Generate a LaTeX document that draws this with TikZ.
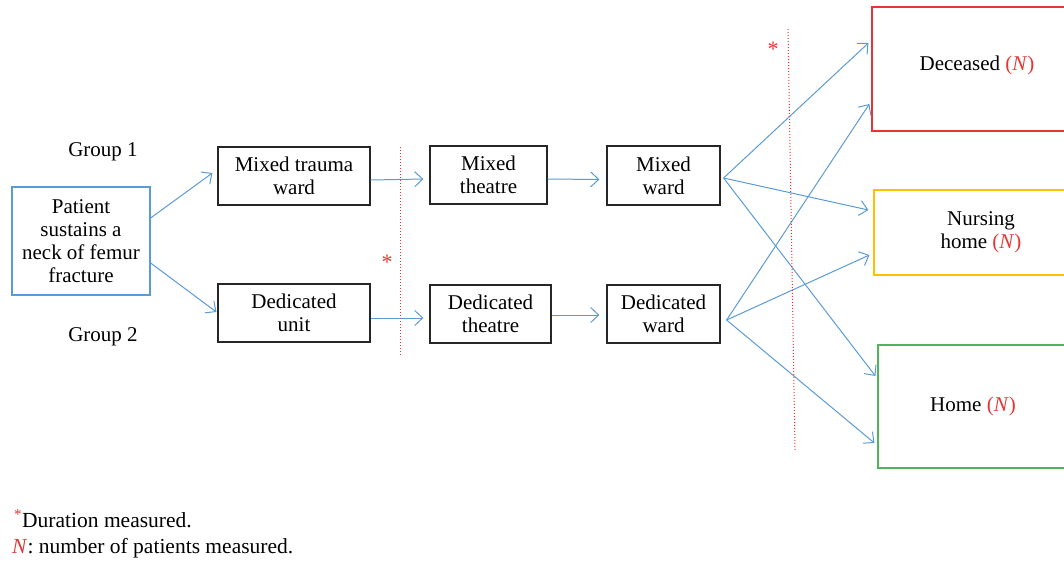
\documentclass[tikz,border=0pt]{standalone}
\usepackage{fontspec}
\setmainfont{Liberation Serif}
\usetikzlibrary{arrows.meta}
\definecolor{lblue}{RGB}{91,155,213}
\definecolor{dred}{RGB}{232,52,52}
\definecolor{dyel}{RGB}{255,192,0}
\definecolor{dgrn}{RGB}{80,180,90}
\begin{document}
\begin{tikzpicture}[x=1pt,y=-1pt,
  box/.style={draw=black!85,line width=1.2pt,inner sep=0pt,align=center,
    font=\rmfamily\fontsize{21}{23}\selectfont},
  flow/.style={draw=lblue,line width=1pt,-{Straight Barb[length=8pt,width=15pt]}},
  meas/.style={draw=dred,dotted,line width=1pt},
  lab/.style={font=\rmfamily\fontsize{21}{24}\selectfont},
  star/.style={text=dred,font=\rmfamily\fontsize{22}{22}\selectfont,inner sep=0pt}]
\useasboundingbox (0,0) rectangle (1064,560);
\clip (0,0) rectangle (1064,560);
\node[box,draw=lblue,minimum width=138pt,minimum height=108pt] (pat) at (81,241) {Patient\\sustains a\\neck of femur\\fracture};
\node[box,minimum width=152pt,minimum height=58pt] (mtw) at (294,176) {Mixed trauma\\ward};
\node[box,minimum width=152pt,minimum height=58pt] (du) at (294,313) {Dedicated\\unit};
\node[box,minimum width=117pt,minimum height=58pt] (mt) at (488.5,175) {Mixed\\theatre};
\node[box,minimum width=121pt,minimum height=58pt] (dt) at (490.5,314) {Dedicated\\theatre};
\node[box,minimum width=113pt,minimum height=59pt] (mw) at (663.5,175.5) {Mixed\\ward};
\node[box,minimum width=113pt,minimum height=58pt] (dw) at (663.5,314) {Dedicated\\ward};
\node[box,draw=dred,minimum width=210pt,minimum height=124pt] (dec) at (977,69) {};
\node[box,draw=none] (dect) at (977,65) {Deceased \textcolor{dred}{(\textit{N})}};
\node[box,draw=dyel,minimum width=214pt,minimum height=85pt] (nh) at (981,232.5) {Nursing\\home \textcolor{dred}{(\textit{N})}};
\node[box,draw=dgrn,minimum width=190pt,minimum height=123pt] (hm) at (973,406.5) {Home \textcolor{dred}{(\textit{N})}};
\node[lab] (g1) at (103,152) {Group 1};
\node[lab] (g2) at (103,337) {Group 2};
% flows
\draw[flow] ([yshift=23pt]pat.east) -- ([shift={(-5pt,3pt)}]mtw.west);
\draw[flow] ([yshift=-22pt]pat.east) -- ([shift={(-1pt,1pt)}]du.west);
\draw[flow] ([yshift=-4pt]mtw.east) -- ([shift={(-6pt,-4pt)}]mt.west);
\draw[flow] ([yshift=-5pt]du.east) -- ([shift={(-6pt,-4pt)}]dt.west);
\draw[flow] ([yshift=-4pt]mt.east) -- ([shift={(-7pt,-4pt)}]mw.west);
\draw[flow] ([yshift=-1pt]dt.east) -- ([shift={(-7pt,-1pt)}]dw.west);
\coordinate (mwp) at ([shift={(3pt,-2.5pt)}]mw.east);
\coordinate (dwp) at ([shift={(6pt,-6pt)}]dw.east);
\draw[flow] (mwp) -- ([shift={(-3pt,26pt)}]dec.west);
\draw[flow] (mwp) -- ([shift={(-5pt,22.5pt)}]nh.west);
\draw[flow] (mwp) -- ([shift={(-2pt,30.5pt)}]hm.west);
\draw[flow] (dwp) -- ([shift={(-2pt,-35pt)}]dec.west);
\draw[flow] (dwp) -- ([shift={(-4pt,-22.5pt)}]nh.west);
\draw[flow] (dwp) -- ([shift={(-3pt,-36.5pt)}]hm.west);
% measurement lines
\coordinate (m1a) at (400,147);
\coordinate (m1b) at (400,355);
\coordinate (m2a) at (788,29);
\coordinate (m2b) at (795,450);
\draw[meas] (m1a) -- (m1b);
\draw[meas] (m2a) -- (m2b);
\node[star] (s1) at (387,262) {*};
\node[star] (s2) at (773,49) {*};
% footer
\node[anchor=base west,inner sep=0pt,font=\rmfamily\fontsize{21.5}{22}\selectfont] (f1) at (14,527) {\textcolor{dred}{\textsuperscript{*}}Duration measured.};
\node[anchor=base west,inner sep=0pt,font=\rmfamily\fontsize{21.5}{22}\selectfont] (f2) at (12,553) {\textcolor{dred}{\textit{N}}: number of patients measured.};
\end{tikzpicture}
\end{document}
